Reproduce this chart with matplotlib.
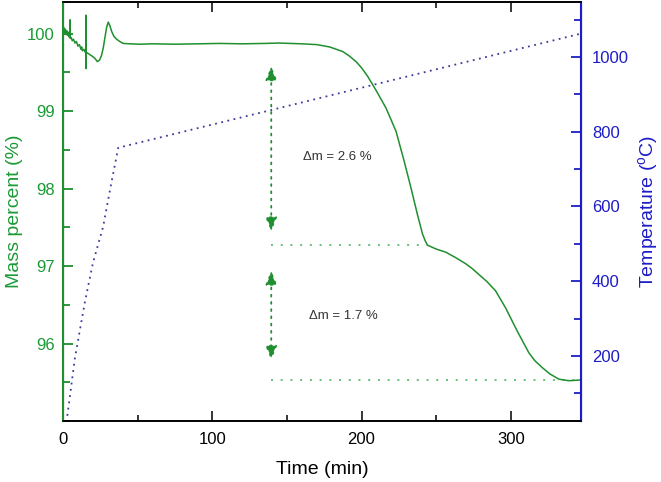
import matplotlib
matplotlib.use("Agg")
import matplotlib.pyplot as plt
from matplotlib.ticker import MultipleLocator, FixedLocator

plt.rcParams['font.family'] = ['Liberation Sans', 'DejaVu Sans']
plt.rcParams['mathtext.fontset'] = 'custom'
plt.rcParams['mathtext.rm'] = 'Liberation Sans'
plt.rcParams['mathtext.it'] = 'Liberation Sans'

# --- data
mass_t = [0.0, 0.5, 1.0, 1.5, 2.0, 2.5, 3.0, 3.5, 4.0, 4.6, 4.7, 4.8, 5.5, 6.2, 7.0,
          8.0, 9.0, 10.0, 11.0, 12.0, 12.5, 13.0, 14.0, 15.0, 15.3, 15.4, 15.45, 15.5,
          16.5, 18.0, 20.3, 21.5, 23.0, 24.5, 25.8, 27.0, 28.0, 29.2, 30.3, 31.3, 32.6,
          34.0, 35.9, 38.0, 40.4, 45.0, 51.6, 60.0, 75.0, 90.0, 105.0, 120.0, 135.0,
          145.0, 160.0, 170.0, 178.5, 183.0, 187.4, 192.0, 196.3, 200.0, 204.1, 209.7,
          216.4, 223.1, 228.6, 233.1, 237.5, 240.9, 242.8, 244.2, 250.0, 256.4, 263.0,
          269.8, 274.0, 278.7, 284.0, 289.8, 296.5, 304.3, 312.1, 316.0, 321.0, 326.0,
          332.2, 338.9, 343.0, 347.0]
mass = [100.03, 100.08, 100.01, 100.06, 99.99, 100.04, 99.98, 100.02, 99.96, 99.99,
        100.18, 99.94, 99.95, 99.91, 99.93, 99.88, 99.90, 99.84, 99.86, 99.80, 99.83,
        99.78, 99.80, 99.76, 99.78, 100.24, 99.55, 99.76, 99.75, 99.73, 99.70, 99.68,
        99.64, 99.66, 99.72, 99.82, 99.94, 100.08, 100.15, 100.11, 100.03, 99.97, 99.93,
        99.90, 99.875, 99.87, 99.865, 99.87, 99.865, 99.87, 99.875, 99.87, 99.875,
        99.88, 99.87, 99.86, 99.83, 99.80, 99.77, 99.71, 99.64, 99.56, 99.45, 99.27,
        99.04, 98.74, 98.35, 98.01, 97.66, 97.41, 97.32, 97.27, 97.22, 97.18, 97.11,
        97.03, 96.97, 96.89, 96.80, 96.68, 96.46, 96.16, 95.88, 95.78, 95.69, 95.61,
        95.54, 95.52, 95.525, 95.53]

temp_t = [2.9, 8.0, 14.7, 20.0, 26.9, 32.0, 37.0, 346.5]
temp = [40, 195, 345, 448, 546, 655, 757, 1062]

mass_ticks = [96, 97, 98, 99, 100]

level_upper = 97.27
level_lower = 95.53
level_start = 139.5
level_upper_end = 244.0
level_lower_end = 347.0

arrow_t = 139.5
arrow1 = (99.58, 97.45)
arrow2 = (96.94, 95.79)
label1 = "\u0394m = 2.6 %"
label2 = "\u0394m = 1.7 %"
label1_pos = (184, 98.41)
label2_pos = (188, 96.35)

green = '#1f8f2f'
green_txt = '#1a9a35'
green_dot = '#66c07a'
blue = '#1c1cc8'
navy = '#3a3a9c'

fig = plt.figure(figsize=(6.61, 4.82), dpi=100)
ax = fig.add_axes([63 / 661, 1 - 421 / 482, (581 - 63) / 661, (421 - 2) / 482])
ax2 = ax.twinx()

ax.plot(mass_t, mass, color=green, lw=1.1, zorder=3)
ax.plot([level_start, level_upper_end], [level_upper, level_upper],
        ls=(0, (1, 4)), color=green_dot, lw=1.4)
ax.plot([level_start, level_lower_end], [level_lower, level_lower],
        ls=(0, (1, 4)), color=green_dot, lw=1.4)

for top, bot in (arrow1, arrow2):
    ax.annotate('', xy=(arrow_t, bot), xytext=(arrow_t, top),
                arrowprops=dict(arrowstyle='<|-|>,head_length=0.6,head_width=0.25',
                                color=green, lw=1.3,
                                linestyle=(0, (1, 3)), mutation_scale=14,
                                shrinkA=0, shrinkB=0))
ax.text(*label1_pos, label1, ha='center', va='center', fontsize=9.5, color='#333333')
ax.text(*label2_pos, label2, ha='center', va='center', fontsize=9.5, color='#333333')

ax2.plot(temp_t, temp, ls=(0, (1, 2.5)), color=navy, lw=1.3)

ax.set_xlim(0, 347)
ax.set_ylim(95.0, 100.41)
ax2.set_ylim(26, 1147)

ax.xaxis.set_major_locator(MultipleLocator(100))
ax.xaxis.set_minor_locator(MultipleLocator(50))
ax.yaxis.set_major_locator(FixedLocator(mass_ticks))
ax.yaxis.set_minor_locator(MultipleLocator(0.5))
ax2.yaxis.set_major_locator(MultipleLocator(200))
ax2.yaxis.set_minor_locator(MultipleLocator(100))

ax.tick_params(axis='x', which='both', direction='in', top=True, labelsize=12,
               pad=8, color='black')
ax.tick_params(axis='x', which='major', length=7, width=1.1)
ax.tick_params(axis='x', which='minor', length=4, width=1.1)
ax.tick_params(axis='y', which='both', direction='in', colors=green, labelcolor=green_txt,
               labelsize=12, pad=6, width=1.3)
ax.tick_params(axis='y', which='major', length=7)
ax.tick_params(axis='y', which='minor', length=5)
ax2.tick_params(axis='y', which='both', direction='in', colors=blue, labelsize=12,
                pad=8, width=1.3)
ax2.tick_params(axis='y', which='major', length=7)
ax2.tick_params(axis='y', which='minor', length=5)

for a in (ax, ax2):
    a.spines['top'].set_linewidth(1.2)
    a.spines['bottom'].set_linewidth(1.2)
ax2.spines['left'].set_color(green)
ax2.spines['left'].set_linewidth(1.5)
ax2.spines['right'].set_color(blue)
ax2.spines['right'].set_linewidth(1.5)

ax.set_xlabel('Time (min)', fontsize=14, labelpad=10)
ax.set_ylabel('Mass percent (%)', fontsize=14, color=green_txt, labelpad=3)
ax2.set_ylabel('Temperature ($^{\\mathrm{o}}$C)', fontsize=14, color=blue, labelpad=5)

fig.savefig('out.png', dpi=100)
